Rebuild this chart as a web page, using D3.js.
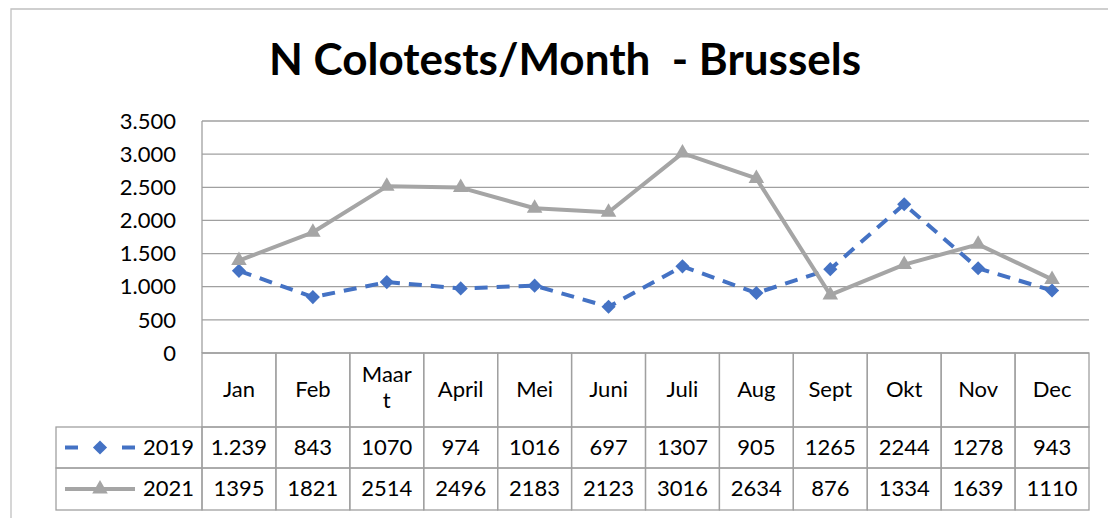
<!DOCTYPE html>
<meta charset="utf-8">
<style>
    body { margin: 0; background: #fff; }
    text { font-family: Lato, "Open Sans", sans-serif; fill: #000; }
    .grid line { stroke: #a0a0a0; stroke-width: 1.3px; }
    .cell { fill: none; stroke: #a0a0a0; stroke-width: 1.3px; }
</style>
<body>
<script src="https://d3js.org/d3.v7.min.js"></script>
<script>

const months = ["Jan", "Feb", "Maart", "April", "Mei", "Juni", "Juli", "Aug", "Sept", "Okt", "Nov", "Dec"];
const monthLines = [["Jan"], ["Feb"], ["Maar", "t"], ["April"], ["Mei"], ["Juni"], ["Juli"], ["Aug"], ["Sept"], ["Okt"], ["Nov"], ["Dec"]];
const values2019 = [1239, 843, 1070, 974, 1016, 697, 1307, 905, 1265, 2244, 1278, 943];
const values2021 = [1395, 1821, 2514, 2496, 2183, 2123, 3016, 2634, 876, 1334, 1639, 1110];
const labels2019 = ["1.239", "843", "1070", "974", "1016", "697", "1307", "905", "1265", "2244", "1278", "943"];
const labels2021 = ["1395", "1821", "2514", "2496", "2183", "2123", "3016", "2634", "876", "1334", "1639", "1110"];
const yTicks = [0, 500, 1000, 1500, 2000, 2500, 3000, 3500];

const width = 1108, height = 518;
const plot = { left: 202, right: 1089, top: 121, bottom: 353 };

const svg = d3.select("body").append("svg")
    .attr("width", width)
    .attr("height", height);

// chart border (only top and left visible)
svg.append("path")
    .attr("d", `M11,${height} V9 H${width}`)
    .attr("fill", "none")
    .attr("stroke", "#c0c0c0")
    .attr("stroke-width", 1.3);

svg.append("text")
    .attr("x", 565)
    .attr("y", 75)
    .attr("text-anchor", "middle")
    .style("font-size", "44px")
    .style("font-weight", "bold")
    .style("white-space", "pre")
    .text("N Colotests/Month  - Brussels");

const x = d3.scaleBand()
    .domain(months)
    .range([plot.left, plot.right]);

const y = d3.scaleLinear()
    .domain([0, 3500])
    .range([plot.bottom, plot.top]);

// horizontal gridlines
svg.append("g")
    .attr("class", "grid")
    .selectAll("line")
    .data(yTicks)
    .join("line")
    .attr("x1", plot.left)
    .attr("x2", plot.right)
    .attr("y1", d => y(d))
    .attr("y2", d => y(d));

svg.append("line")
    .attr("x1", plot.left).attr("x2", plot.left)
    .attr("y1", plot.top).attr("y2", plot.bottom)
    .attr("stroke", "#a0a0a0").attr("stroke-width", 1.3);

// y axis labels
const fmt = d => d3.format(",")(d).replace(/,/g, ".");
svg.append("g")
    .selectAll("text")
    .data(yTicks)
    .join("text")
    .attr("x", 176)
    .attr("y", d => y(d))
    .attr("dy", "0.35em")
    .attr("text-anchor", "end")
    .style("font-size", "22px")
    .text(fmt);

// data table
const rows = [
    { top: plot.bottom, bottom: 427 },
    { top: 427, bottom: 468 },
    { top: 468, bottom: 510 }
];
const table = svg.append("g");

months.forEach((m, i) => {
    rows.forEach(r => {
        table.append("rect")
            .attr("class", "cell")
            .attr("x", x(m))
            .attr("y", r.top)
            .attr("width", x.bandwidth())
            .attr("height", r.bottom - r.top);
    });
});
rows.slice(1).forEach(r => {
    table.append("rect")
        .attr("class", "cell")
        .attr("x", 56)
        .attr("y", r.top)
        .attr("width", plot.left - 56)
        .attr("height", r.bottom - r.top);
});

// header labels
monthLines.forEach((lines, i) => {
    const cx = x(months[i]) + x.bandwidth() / 2;
    const t = table.append("text")
        .attr("text-anchor", "middle")
        .style("font-size", "22px");
    if (lines.length === 1) {
        t.append("tspan").attr("x", cx).attr("y", 397).text(lines[0]);
    } else {
        t.append("tspan").attr("x", cx).attr("y", 382).text(lines[0]);
        t.append("tspan").attr("x", cx).attr("y", 408).text(lines[1]);
    }
});

table.selectAll(".v2019")
    .data(labels2019)
    .join("text")
    .attr("x", (d, i) => x(months[i]) + x.bandwidth() / 2)
    .attr("y", 455)
    .attr("text-anchor", "middle")
    .style("font-size", "22px")
    .text(d => d);

table.selectAll(".v2021")
    .data(labels2021)
    .join("text")
    .attr("x", (d, i) => x(months[i]) + x.bandwidth() / 2)
    .attr("y", 496)
    .attr("text-anchor", "middle")
    .style("font-size", "22px")
    .text(d => d);

const series = [
    { name: "2019", values: values2019, color: "#4472c4", dash: "13,9", symbol: d3.symbolSquare, size: 100, rotate: 45, rowY: 447.5 },
    { name: "2021", values: values2021, color: "#a5a5a5", dash: null, symbol: d3.symbolTriangle, size: 105, rotate: 0, rowY: 489 }
];

const line = d3.line()
    .x((d, i) => x(months[i]) + x.bandwidth() / 2)
    .y(d => y(d));

series.forEach(s => {
    svg.append("path")
        .datum(s.values)
        .attr("fill", "none")
        .attr("stroke", s.color)
        .attr("stroke-width", 4)
        .attr("stroke-linejoin", "round")
        .attr("stroke-dasharray", s.dash)
        .attr("d", line);

    svg.append("g")
        .selectAll("path")
        .data(s.values)
        .join("path")
        .attr("transform", (d, i) => `translate(${x(months[i]) + x.bandwidth() / 2},${y(d)}) rotate(${s.rotate})`)
        .attr("d", d3.symbol().type(s.symbol).size(s.size))
        .attr("fill", s.color);

    // legend key in the table
    const g = table.append("g");
    const segs = s.dash ? [[65, 78], [122, 135]] : [[65, 135]];
    segs.forEach(([a, b]) => {
        g.append("line")
            .attr("x1", a).attr("x2", b)
            .attr("y1", s.rowY).attr("y2", s.rowY)
            .attr("stroke", s.color)
            .attr("stroke-width", 4);
    });
    g.append("path")
        .attr("transform", `translate(100,${s.rowY}) rotate(${s.rotate})`)
        .attr("d", d3.symbol().type(s.symbol).size(s.size))
        .attr("fill", s.color);
    g.append("text")
        .attr("x", 194)
        .attr("y", s.name === "2019" ? 455 : 496)
        .attr("text-anchor", "end")
        .style("font-size", "22px")
        .text(s.name);
});

</script>
</body>
</html>
